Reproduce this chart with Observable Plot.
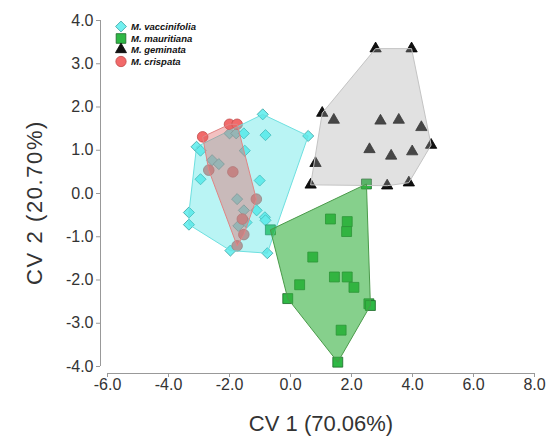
<!DOCTYPE html>
<html><head><meta charset="utf-8">
<script src="https://cdn.jsdelivr.net/npm/d3@7"></script>
<script src="https://cdn.jsdelivr.net/npm/@observablehq/plot@0.6"></script>
<style>
body{margin:0;background:#fff;font-family:"Liberation Sans",Arial,sans-serif;}
#wrap{position:relative;width:549px;height:436px;}
#legend{position:absolute;left:115px;top:21px;font:italic bold 9.5px "Liberation Sans",Arial,sans-serif;color:#111;}
.row{display:flex;align-items:center;height:11.5px;white-space:nowrap;}
.row svg{margin-right:4px;overflow:visible}
</style></head><body><div id="wrap"><div id="legend"></div></div>
<script>
const species = ["M. vaccinifolia", "M. mauritiana", "M. geminata", "M. crispata"];
const xTicks = [-6, -4, -2, 0, 2, 4, 6, 8];
const yTicks = [-4, -3, -2, -1, 0, 1, 2, 3, 4];

const vacX = [-0.91,-0.82,0.58,-2.00,-1.78,-1.53,-3.08,-2.95,-1.50,-2.57,-2.35,-2.95,-1.01,-1.75,-3.33,-3.33,-1.53,-1.11,-0.84,-0.82,-1.71,-1.44,-1.97,-0.76];
const vacY = [1.83,1.35,1.33,1.39,1.39,1.39,1.08,0.99,0.99,0.77,0.68,0.33,0.30,-0.13,-0.44,-0.72,-0.39,-0.39,-0.55,-0.62,-0.75,-0.67,-1.32,-1.38];
const mauX = [2.49,1.31,1.86,1.84,-0.66,0.73,0.30,1.44,1.86,2.08,-0.09,2.57,2.62,1.66,1.55];
const mauY = [0.22,-0.59,-0.65,-0.88,-0.84,-1.47,-2.11,-1.93,-1.93,-2.17,-2.43,-2.55,-2.59,-3.16,-3.90];
const gemX = [2.79,3.97,1.04,1.42,2.95,3.55,4.29,4.61,2.59,3.99,3.30,0.82,0.66,3.17,3.88];
const gemY = [3.35,3.35,1.86,1.70,1.68,1.70,1.53,1.12,1.02,0.97,0.87,0.70,0.20,0.18,0.25];
const criX = [-2.88,-2.00,-1.75,-2.68,-1.89,-1.12,-1.58,-1.53,-1.75];
const criY = [1.31,1.60,1.60,0.54,0.50,-0.13,-0.59,-0.95,-1.21];

const toRows = (xs, ys) => xs.map((x, i) => ({x, y: ys[i]}));
const vac = toRows(vacX, vacY), mau = toRows(mauX, mauY), gem = toRows(gemX, gemY), cri = toRows(criX, criY);

const style = {
  vac: {symbol: "diamond2", r: 5, fill: "#72f0f0", stroke: "#3a9f9f"},
  mau: {symbol: "square", r: 5.6, fill: "#2fb845", stroke: "#1d6a2a"},
  gem: {symbol: "triangle", r: 4.2, fill: "#111", stroke: "#000"},
  cri: {symbol: "circle", r: 5.3, fill: "#f26a6a", stroke: "#c24a4a"}
};

const chart = Plot.plot({
  width: 549, height: 436,
  marginLeft: 107, marginRight: 15, marginTop: 20, marginBottom: 70,
  x: {domain: [-6, 8]},
  y: {domain: [-4, 4]},
  style: {fontFamily: "'Liberation Sans', Arial, sans-serif", background: "#fff"},
  marks: [
    Plot.ruleY([-4], {dy: 7, stroke: "#999"}),
    Plot.ruleX([-6], {dx: -7, stroke: "#999"}),
    Plot.axisX({ticks: xTicks, tickFormat: d => d.toFixed(1), dy: 7, tickSize: 4, tickPadding: 1, fontSize: 16, stroke: "#999", fill: "#333", label: null}),
    Plot.axisY({ticks: yTicks, tickFormat: d => d.toFixed(1), dx: -7, tickSize: 4, tickPadding: 3, fontSize: 16, stroke: "#999", fill: "#333", label: null}),
    Plot.dot(vac, {x: "x", y: "y", ...style.vac, strokeWidth: 0.8}),
    Plot.dot(mau, {x: "x", y: "y", ...style.mau, strokeWidth: 0.8}),
    Plot.dot(gem, {x: "x", y: "y", ...style.gem, strokeWidth: 0.8}),
    Plot.dot(cri, {x: "x", y: "y", ...style.cri, strokeWidth: 0.8}),
    Plot.hull(vac, {x: "x", y: "y", fill: "#4fe3e3", fillOpacity: 0.4, stroke: "#6ee0e0", strokeWidth: 1}),
    Plot.hull(cri, {x: "x", y: "y", fill: "#e06565", fillOpacity: 0.4, stroke: "#e08585", strokeWidth: 1}),
    Plot.hull(gem, {x: "x", y: "y", fill: "#aaaaaa", fillOpacity: 0.35, stroke: "#c4c4c4", strokeWidth: 1}),
    Plot.hull(mau, {x: "x", y: "y", fill: "#36b040", fillOpacity: 0.6, stroke: "#4a9a4a", strokeWidth: 1}),
    Plot.text(["CV 1 (70.06%)"], {text: d => d, frameAnchor: "bottom", textAnchor: "middle", lineAnchor: "middle", dy: 57, fontSize: 22, fill: "#333"}),
    Plot.text(["CV 2 (20.70%)"], {text: d => d, frameAnchor: "left", textAnchor: "middle", lineAnchor: "middle", rotate: -90, dx: -73, dy: 9, fontSize: 22, fill: "#333"})
  ]
});
d3.select(chart).selectAll("text").filter(function() { return this.textContent === "CV 2 (20.70%)"; })
  .style("letter-spacing", "1.6px");
document.getElementById("wrap").prepend(chart);

const keys = ["vac", "mau", "gem", "cri"];
const legend = document.getElementById("legend");
species.forEach((name, i) => {
  const s = style[keys[i]];
  const row = document.createElement("div");
  row.className = "row";
  const svg = d3.create("svg").attr("width", 12).attr("height", 11);
  const sym = {diamond2: d3.symbolDiamond2, square: d3.symbolSquare, triangle: d3.symbolTriangle, circle: d3.symbolCircle}[s.symbol];
  svg.append("path").attr("transform", "translate(6,5.5)")
    .attr("d", d3.symbol(sym, Math.PI * s.r * s.r * 0.95)())
    .attr("fill", s.fill).attr("stroke", s.stroke).attr("stroke-width", 0.8);
  row.appendChild(svg.node());
  const t = document.createElement("span");
  t.textContent = name;
  row.appendChild(t);
  legend.appendChild(row);
});
</script>
</body></html>
